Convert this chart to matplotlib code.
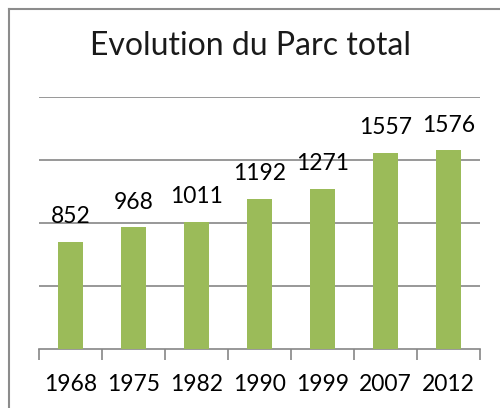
import matplotlib
matplotlib.use("Agg")
import matplotlib.pyplot as plt
from matplotlib.lines import Line2D

years = ["1968", "1975", "1982", "1990", "1999", "2007", "2012"]
parc = [852, 968, 1011, 1192, 1271, 1557, 1576]
title = "Evolution du Parc total"

W, H = 500, 408
fig = plt.figure(figsize=(W / 100, H / 100), dpi=100)
fig.patch.set_facecolor("white")

# outer chart border (top and left visible)
fig.add_artist(Line2D([9 / W, 9 / W], [0, 1 - 9 / H], color="#8c8c8c", lw=1.5))
fig.add_artist(Line2D([9 / W, 1], [1 - 9 / H, 1 - 9 / H], color="#8c8c8c", lw=1.5))

ax = fig.add_axes([39 / W, (H - 349) / H, (480 - 39) / W, (349 - 97) / H])
x = list(range(len(years)))
ax.bar(x, parc, width=0.4, color="#9BBB59", zorder=3)
ax.set_xlim(-0.5, len(years) - 0.5)
ax.set_ylim(0, 2000)
ax.set_yticks([500, 1000, 1500, 2000])
ax.yaxis.grid(True, color="#868686", lw=1.2, zorder=0)
ax.tick_params(axis="y", left=False, labelleft=False)
for s in ["left", "right", "top"]:
    ax.spines[s].set_visible(False)
ax.spines["bottom"].set_color("#868686")
ax.spines["bottom"].set_linewidth(1.2)

ax.set_xticks([i - 0.5 for i in range(len(years) + 1)], minor=False)
ax.set_xticklabels([])
ax.tick_params(axis="x", which="major", direction="out", length=8, width=1.2, color="#868686")
ax.set_xticks(x, minor=True)
ax.set_xticklabels(years, minor=True, fontsize=16.5, family="Lato")
ax.tick_params(axis="x", which="minor", length=0, pad=18)

for xi, v in zip(x, parc):
    ax.text(xi, v + 115, str(v), ha="center", va="bottom", fontsize=16.5, family="Lato", zorder=4)

fig.text(0.5, 1 - 46 / H, title, ha="center", va="center", fontsize=23,
         family="Lato", color="#1a1a1a")

fig.savefig("out.png", dpi=100)
